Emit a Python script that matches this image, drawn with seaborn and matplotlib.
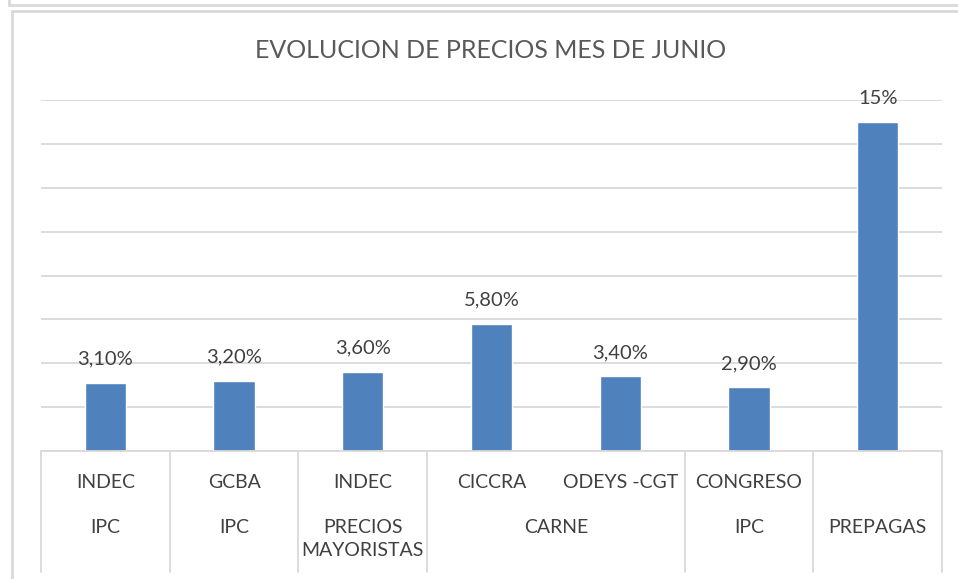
import pandas as pd
import matplotlib.pyplot as plt
import seaborn as sns
from matplotlib.lines import Line2D

# datos del grafico
fuentes = ["INDEC", "GCBA", "INDEC", "CICCRA", "ODEYS -CGT", "CONGRESO", ""]
valores = [3.1, 3.2, 3.6, 5.8, 3.4, 2.9, 15]
etiquetas = ["3,10%", "3,20%", "3,60%", "5,80%", "3,40%", "2,90%", "15%"]
grupos = ["IPC", "IPC", "PRECIOS\nMAYORISTAS", "CARNE", "IPC", "PREPAGAS"]
tam_grupos = [1, 1, 1, 2, 1, 1]

claves = [f"{i}-{f}" for i, f in enumerate(fuentes)]
df = pd.DataFrame({"clave": claves, "valor": valores})

sns.set_style("white")
plt.rcParams['font.family'] = ['Lato', 'DejaVu Sans']

azul = "#4f81bd"
gris = "#d9d9d9"
texto = "#404040"

fig = plt.figure(figsize=(9.58, 5.79), dpi=100)
W, H = 958, 579
ax = fig.add_axes([41 / W, 1 - 451 / H, (942 - 41) / W, (451 - 100) / H])

sns.barplot(data=df, x="clave", y="valor", color=azul, saturation=1,
            width=0.32, errorbar=None, ax=ax)

ax.set_ylim(0, 16)
ax.set_yticks(range(0, 17, 2))
ax.yaxis.grid(True, color=gris, linewidth=1.3)
ax.set_axisbelow(True)
ax.set_yticklabels([])
ax.tick_params(left=False, bottom=False)
ax.set_xticks([])
ax.set_xlabel("")
ax.set_ylabel("")
for s in ax.spines.values():
    s.set_visible(False)
ax.set_xlim(-0.5, len(valores) - 0.5)

# etiquetas de datos
ax.bar_label(ax.containers[0], labels=etiquetas, padding=11,
             fontsize=14.5, color=texto)

# eje de categorias en dos niveles
tr = ax.get_xaxis_transform()
alto = 451 - 100
y_fila1 = (451 - 482) / alto
y_fila2 = (451 - 519) / alto
y_fin = (451 - 572) / alto

for i, f in enumerate(fuentes):
    ax.text(i, y_fila1, f, transform=tr, ha="center", va="center",
            fontsize=14, color=texto)

inicio = 0
bordes = [0]
for g, n in zip(grupos, tam_grupos):
    centro = inicio + (n - 1) / 2
    ax.text(centro, y_fila2, g, transform=tr, ha="center", va="top",
            fontsize=14, color=texto, linespacing=1.45)
    inicio += n
    bordes.append(inicio)

ax.plot([-0.5, len(valores) - 0.5], [0, 0], transform=tr, color=gris,
        linewidth=1.3, clip_on=False)
for b in bordes:
    ax.plot([b - 0.5, b - 0.5], [0, y_fin], transform=tr, color=gris,
            linewidth=1.3, clip_on=False)

# titulo
fig.text(491 / W, 1 - 51 / H, "EVOLUCION DE PRECIOS MES DE JUNIO",
         ha="center", va="center", fontsize=18, color="#595959")

# marcos del area del grafico
def linea(x0, y0, x1, y1):
    fig.add_artist(Line2D([x0 / W, x1 / W], [1 - y0 / H, 1 - y1 / H],
                          color=gris, linewidth=2, transform=fig.transFigure))

linea(9, 5, W, 5)
linea(9, 0, 9, 5)
linea(12, 11, W, 11)
linea(12, 11, 12, H)

plt.savefig("out.png", dpi=100)
